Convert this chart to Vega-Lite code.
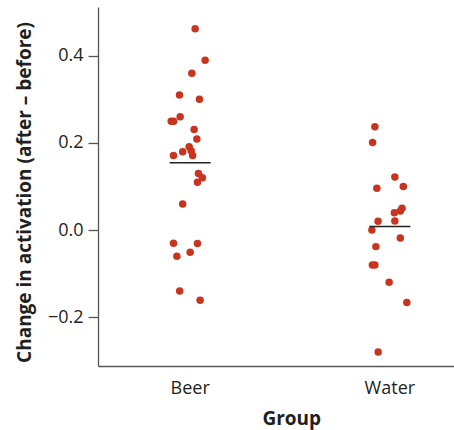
{
  "$schema": "https://vega.github.io/schema/vega-lite/v6.json",
  "width": 384,
  "height": 359,
  "autosize": {"type": "none"},
  "padding": {"left": 98, "top": 7, "right": 0, "bottom": 64},
  "config": {
    "view": {"stroke": null},
    "font": "Open Sans",
    "axis": {
      "grid": false,
      "domainColor": "#555555",
      "domainWidth": 1.3,
      "tickColor": "#555555",
      "tickWidth": 1.3,
      "labelFont": "Open Sans",
      "labelFontSize": 18,
      "labelColor": "#231f20",
      "titleFont": "Open Sans",
      "titleFontSize": 19,
      "titleFontWeight": "bold",
      "titleColor": "#231f20"
    }
  },
  "data": {
    "values": [
      {"group": "Beer", "change": 0.462, "jitter": 5},
      {"group": "Beer", "change": 0.390, "jitter": 15},
      {"group": "Beer", "change": 0.360, "jitter": 1.7},
      {"group": "Beer", "change": 0.310, "jitter": -10.7},
      {"group": "Beer", "change": 0.300, "jitter": 9.3},
      {"group": "Beer", "change": 0.260, "jitter": -10},
      {"group": "Beer", "change": 0.250, "jitter": -19},
      {"group": "Beer", "change": 0.250, "jitter": -16.5},
      {"group": "Beer", "change": 0.231, "jitter": 4},
      {"group": "Beer", "change": 0.209, "jitter": 6.7},
      {"group": "Beer", "change": 0.191, "jitter": -1},
      {"group": "Beer", "change": 0.180, "jitter": -7.5},
      {"group": "Beer", "change": 0.182, "jitter": 1},
      {"group": "Beer", "change": 0.171, "jitter": 2.5},
      {"group": "Beer", "change": 0.171, "jitter": -16.7},
      {"group": "Beer", "change": 0.130, "jitter": 8.3},
      {"group": "Beer", "change": 0.120, "jitter": 12.3},
      {"group": "Beer", "change": 0.110, "jitter": 7.3},
      {"group": "Beer", "change": 0.060, "jitter": -7.5},
      {"group": "Beer", "change": -0.030, "jitter": -16.7},
      {"group": "Beer", "change": -0.031, "jitter": 7.3},
      {"group": "Beer", "change": -0.051, "jitter": 0},
      {"group": "Beer", "change": -0.060, "jitter": -13.3},
      {"group": "Beer", "change": -0.140, "jitter": -10.5},
      {"group": "Beer", "change": -0.161, "jitter": 10},
      {"group": "Water", "change": 0.237, "jitter": -15},
      {"group": "Water", "change": 0.201, "jitter": -17.3},
      {"group": "Water", "change": 0.122, "jitter": 5},
      {"group": "Water", "change": 0.096, "jitter": -13},
      {"group": "Water", "change": 0.100, "jitter": 13.5},
      {"group": "Water", "change": 0.050, "jitter": 12.2},
      {"group": "Water", "change": 0.044, "jitter": 10.5},
      {"group": "Water", "change": 0.040, "jitter": 4.5},
      {"group": "Water", "change": 0.020, "jitter": -11.8},
      {"group": "Water", "change": 0.021, "jitter": 5},
      {"group": "Water", "change": 0.000, "jitter": -18},
      {"group": "Water", "change": -0.018, "jitter": 10.5},
      {"group": "Water", "change": -0.038, "jitter": -14},
      {"group": "Water", "change": -0.080, "jitter": -17.5},
      {"group": "Water", "change": -0.080, "jitter": -15},
      {"group": "Water", "change": -0.120, "jitter": -0.7},
      {"group": "Water", "change": -0.166, "jitter": 17},
      {"group": "Water", "change": -0.280, "jitter": -11.7}
    ]
  },
  "encoding": {
    "x": {
      "field": "group",
      "type": "nominal",
      "scale": {"type": "band", "paddingInner": 0.6, "paddingOuter": 0.2615},
      "axis": {
        "title": "Group",
        "labelAngle": 0,
        "ticks": false,
        "tickSize": 0,
        "labelBaseline": "alphabetic",
        "labelPadding": 27.8,
        "titleX": 193.3,
        "titleY": 58,
        "titleAlign": "center",
        "titleBaseline": "alphabetic"
      }
    }
  },
  "layer": [
    {
      "mark": {"type": "circle", "size": 56, "color": "#c9341f", "opacity": 1},
      "encoding": {
        "xOffset": {"field": "jitter", "type": "quantitative", "scale": {"domain": [-40, 40]}},
        "y": {
          "field": "change",
          "type": "quantitative",
          "scale": {"domain": [-0.312, 0.512], "nice": false, "zero": false},
          "axis": {
            "title": "Change in activation (after – before)",
            "values": [-0.2, 0, 0.2, 0.4],
            "format": ".1f",
            "tickSize": 10,
            "labelPadding": 5,
            "titleAngle": -90,
            "titleX": -67.7,
            "titleY": 185,
            "titleAlign": "center",
            "titleBaseline": "alphabetic"
          }
        }
      }
    },
    {
      "mark": {"type": "tick", "size": 41, "thickness": 1.5, "color": "#222222"},
      "encoding": {
        "y": {"aggregate": "mean", "field": "change", "type": "quantitative"}
      }
    }
  ]
}
